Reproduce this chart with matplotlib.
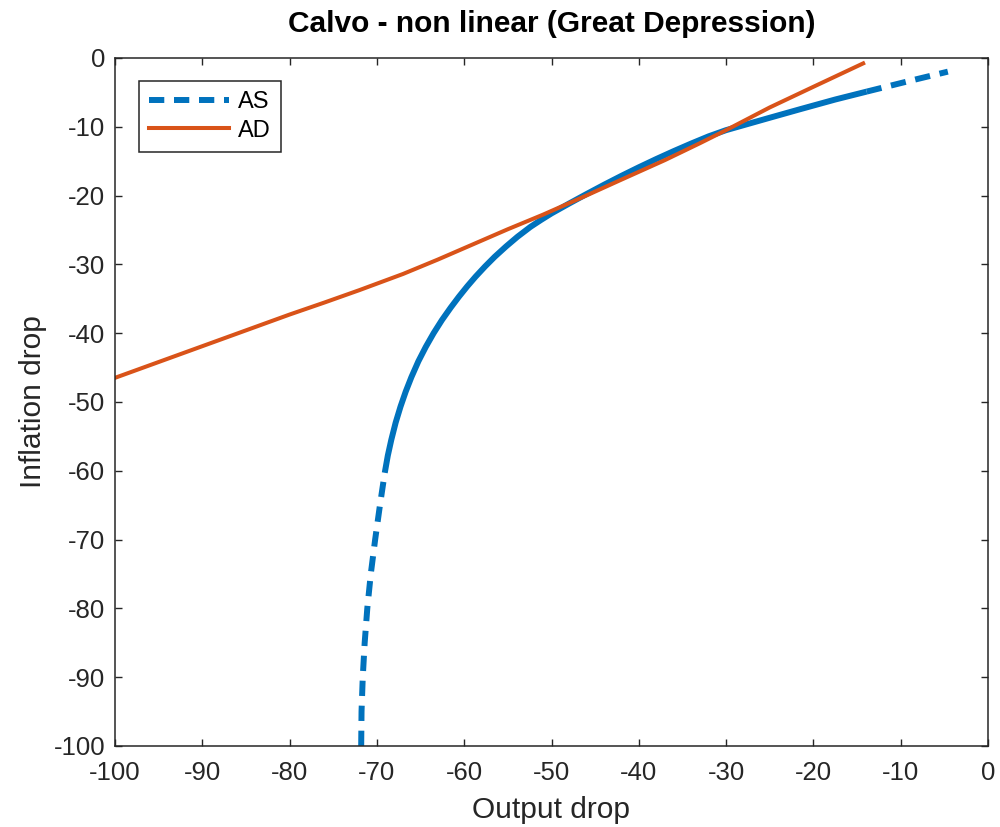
import numpy as np
import matplotlib
matplotlib.use("Agg")
import matplotlib.pyplot as plt

plt.rcParams['font.family'] = ['Liberation Sans', 'DejaVu Sans']
plt.rcParams['lines.scale_dashes'] = False
plt.rcParams['axes.unicode_minus'] = False

title = "Calvo - non linear (Great Depression)"
xlabel = "Output drop"
ylabel = "Inflation drop"
series_names = ["AS", "AD"]

as_x = [-71.8, -71.76, -71.62, -71.4, -71.1, -70.7, -70.2, -69.65, -69.1,
        -68.75, -68.35, -67.85, -67.3, -66.7, -66.05, -65.25, -64.4, -63.5,
        -62.55, -61.55, -60.6, -59.65, -58.7, -57.6, -56.5, -55.2, -53.9,
        -52.4, -51.2, -50.0, -48.0, -46.0, -44.0, -42.0, -40.0, -38.0, -36.0,
        -34.0, -32.0, -30.0, -27.5, -25.0, -21.5, -17.5, -13.9, -9.0, -4.6]
as_y = [-100.0, -95.0, -90.0, -85.0, -80.0, -75.0, -70.0, -65.0, -60.3,
        -57.8, -55.5, -53.0, -50.7, -48.5, -46.4, -44.1, -42.0, -40.0,
        -38.1, -36.3, -34.7, -33.2, -31.8, -30.3, -28.9, -27.4, -26.0,
        -24.55, -23.55, -22.6, -21.18, -19.8, -18.45, -17.15, -15.9, -14.7, -13.55,
        -12.45, -11.4, -10.5, -9.6, -8.7, -7.45, -6.05, -4.9, -3.35, -2.0]

ad_x = [-100, -95, -90, -85, -80, -76, -72, -67, -63, -59, -55, -51, -46, -42,
        -37, -33, -30, -25, -20, -14.3]
ad_y = [-46.5, -44.2, -41.9, -39.6, -37.3, -35.55, -33.75, -31.4, -29.3, -27.1,
        -24.9, -22.8, -20.0, -17.7, -14.85, -12.4, -10.5, -7.2, -4.2, -0.8]

xticks = list(range(-100, 1, 10))
yticks = list(range(-100, 1, 10))

c_as = '#0072BD'
c_ad = '#D95319'
axcol = '#262626'

fig = plt.figure(figsize=(10, 8.27), dpi=100)
ax = fig.add_axes([0.115, 0.098, 0.873, 0.832])

asx = np.array(as_x); asy = np.array(as_y)
lo = asy <= -60.3
hi = asx >= -13.9
mid = (asy >= -60.3) & (asx <= -13.9)

dash = [11, 7]
ax.plot(asx[lo], asy[lo], color=c_as, lw=4.3, dashes=dash, label=series_names[0],
        solid_capstyle='butt', dash_capstyle='butt')
ax.plot(asx[mid], asy[mid], color=c_as, lw=4.3, solid_capstyle='butt',
        solid_joinstyle='round')
ax.plot(asx[hi], asy[hi], color=c_as, lw=4.3, dashes=dash, dash_capstyle='butt')
ax.plot(ad_x, ad_y, color=c_ad, lw=2.9, label=series_names[1],
        solid_joinstyle='round')

ax.set_xlim(-100, 0)
ax.set_ylim(-100, 0)
ax.set_xticks(xticks)
ax.set_yticks(yticks)
ax.tick_params(direction='in', length=5, width=1, top=True, right=True,
               labelsize=18.5, colors=axcol, pad=7)
ax.tick_params(axis='x', pad=11)
for s in ax.spines.values():
    s.set_color(axcol)
    s.set_linewidth(1.1)

ax.set_title(title, fontsize=21.5, fontweight='bold', color='black', pad=18.5)
ax.set_xlabel(xlabel, fontsize=21.5, color=axcol, labelpad=8)
ax.set_ylabel(ylabel, fontsize=21.5, color=axcol, labelpad=5)

leg = ax.legend(loc='upper left', bbox_to_anchor=(0.027, 0.967), fontsize=17,
                frameon=True, fancybox=False, edgecolor=axcol, framealpha=1,
                handlelength=3.4, handletextpad=0.34, borderpad=0.45,
                labelspacing=0.27, borderaxespad=0)
leg.get_frame().set_linewidth(1.1)

fig.savefig('out.png', dpi=100)
